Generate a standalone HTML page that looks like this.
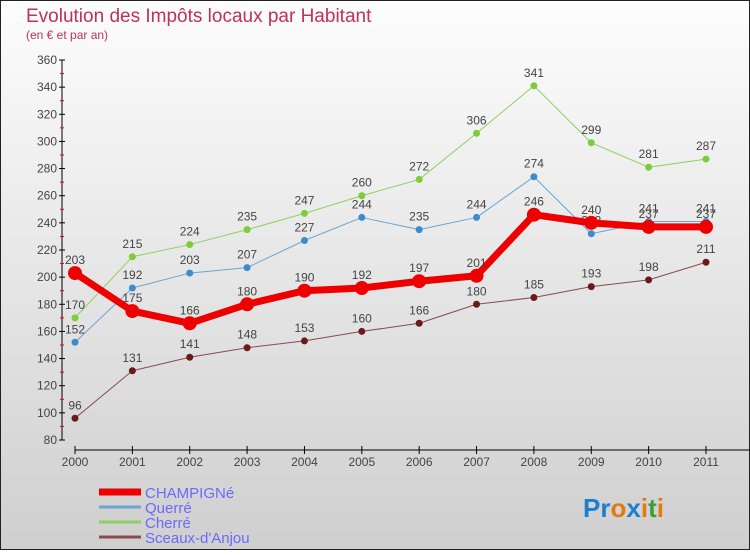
<!DOCTYPE html>
<html><head><meta charset="utf-8"><style>
body{margin:0;width:750px;height:550px;overflow:hidden;font-family:"Liberation Sans",sans-serif}
</style></head><body>
<svg id="c" width="750" height="550" xmlns="http://www.w3.org/2000/svg">
<defs><linearGradient id="bg" x1="0" y1="0" x2="0" y2="1"><stop offset="0" stop-color="#fdfdfd"/><stop offset="1" stop-color="#cfcfcf"/></linearGradient></defs>
<rect x="0.5" y="0.5" width="749" height="549" fill="url(#bg)" stroke="#222"/>
<text x="26" y="22" font-size="19" fill="#c0305a">Evolution des Impôts locaux par Habitant</text>
<text x="26" y="39" font-size="12" fill="#c0305a">(en € et par an)</text>
<g id="axes"></g><g id="series"></g><g id="legend"></g>
<text x="583" y="517" font-size="26" font-weight="bold"><tspan fill="#1a7fd0">Pr</tspan><tspan fill="#e07b10">o</tspan><tspan fill="#1a7fd0">x</tspan><tspan fill="#e07b10">i</tspan><tspan fill="#3aa03a">t</tspan><tspan fill="#e07b10">i</tspan></text>
</svg>
<script>
const years=[2000,2001,2002,2003,2004,2005,2006,2007,2008,2009,2010,2011];
const champigne=[203,175,166,180,190,192,197,201,246,240,237,237];
const querre=[152,192,203,207,227,244,235,244,274,232,241,241];
const cherre=[170,215,224,235,247,260,272,306,341,299,281,287];
const sceaux=[96,131,141,148,153,160,166,180,185,193,198,211];
const yTicks=[80,100,120,140,160,180,200,220,240,260,280,300,320,340,360];
const NS="http://www.w3.org/2000/svg";
const x=i=>75+i*(706-75)/(years.length-1);
const y=v=>440-(v-80)*(380/280);
function el(t,a,p,txt){const e=document.createElementNS(NS,t);for(const k in a)e.setAttribute(k,a[k]);if(txt!=null)e.textContent=txt;p.appendChild(e);return e;}
const ax=document.getElementById('axes');
let l=el('line',{x1:62,y1:y(360),x2:62,y2:y(80),stroke:'#000'},ax);


yTicks.forEach((v,i)=>{
  let t=el('line',{x1:59,y1:y(v),x2:65,y2:y(v),stroke:'#000'},ax);
  
  
  let tx=el('text',{x:57,y:y(v)+4,'font-size':12,'text-anchor':'end',fill:'#444'},ax,v);
  
  
  if(i<yTicks.length-1){let m=el('line',{x1:60,y1:y(v+10),x2:64,y2:y(v+10),stroke:'#e00'},ax);
  
  }
});
l=el('line',{x1:x(0),y1:450,x2:750,y2:450,stroke:'#000'},ax);


years.forEach((yr,i)=>{
  let t=el('line',{x1:x(i),y1:446,x2:x(i),y2:454,stroke:'#000'},ax);
  
  
  let tx=el('text',{x:x(i),y:466,'font-size':12,'text-anchor':'middle',fill:'#444'},ax,yr);
  
  
});
const S=[
 {name:'Sceaux-d\'Anjou',d:sceaux,c:'#6b1a1a',lc:'#8a4a4a',w:1,r:3.5},
 {name:'Cherré',d:cherre,c:'#7ccc3c',lc:'#8ed060',w:1,r:3.5},
 {name:'Querré',d:querre,c:'#3a8ccc',lc:'#6aa6d0',w:1,r:3.5},
 {name:'CHAMPIGNé',d:champigne,c:'#ee0000',lc:'#ee0000',w:7,r:7}
];
const sg=document.getElementById('series');
S.forEach(s=>{
  const g=el('g',{},sg);
  
  
  let p=el('polyline',{points:s.d.map((v,i)=>x(i)+','+y(v)).join(' '),fill:'none',stroke:s.lc,'stroke-width':s.w,'stroke-linejoin':'round'},g);
  
  
  s.d.forEach((v,i)=>{
    let c=el('circle',{cx:x(i),cy:y(v),r:s.r,fill:s.c},g);
    
    
    let t=el('text',{x:x(i),y:y(v)-9,'font-size':12,'text-anchor':'middle',fill:'#444'},g,v);
    
    
  });
});
const lg=document.getElementById('legend');
[S[3],S[2],S[1],S[0]].forEach((s,i)=>{
  const yy=492+i*15;
  const g=el('g',{},lg);
  
  
  el('line',{x1:99,y1:yy,x2:141,y2:yy,stroke:s.lc,'stroke-width':i==0?7:3},g);
  el('text',{x:145,y:yy+6,'font-size':15,fill:'#6a6aff'},g,s.name);
});
</script>
</body></html>
